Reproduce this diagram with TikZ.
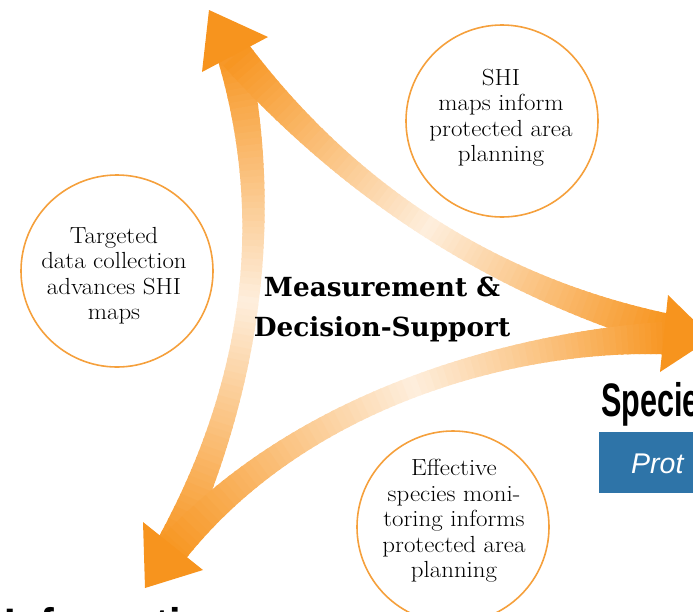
\documentclass[tikz,border=0pt]{standalone}
\usepackage{fontspec}
\usepackage{graphicx}
\newfontfamily\headfont{Liberation Sans}
\newfontfamily\centerfont{DejaVu Serif}
\newfontfamily\circfont[FakeStretch=1.07]{Latin Modern Roman}
\definecolor{arrorange}{RGB}{247,148,30}
\definecolor{arrpale}{RGB}{254,238,220}
\definecolor{ringorange}{RGB}{245,160,60}
\definecolor{boxblue}{RGB}{46,116,168}
\newcommand{\hend}{16.5}
\newcommand{\hmid}{10.5}
\newcommand{\setband}[8]{\def\qax{#1}\def\qay{#2}\def\qbx{#3}\def\qby{#4}\def\qcx{#5}\def\qcy{#6}\def\qdx{#7}\def\qdy{#8}}
\newcommand{\calcpt}[1]{%
  \pgfmathsetmacro{\bzt}{#1}%
  \pgfmathsetmacro{\bzs}{1-\bzt}%
  \pgfmathsetmacro{\bzpx}{\bzs*\bzs*\bzs*\qax+3*\bzs*\bzs*\bzt*\qbx+3*\bzs*\bzt*\bzt*\qcx+\bzt*\bzt*\bzt*\qdx}%
  \pgfmathsetmacro{\bzpy}{\bzs*\bzs*\bzs*\qay+3*\bzs*\bzs*\bzt*\qby+3*\bzs*\bzt*\bzt*\qcy+\bzt*\bzt*\bzt*\qdy}%
  \pgfmathsetmacro{\bztx}{(3*\bzs*\bzs*(\qbx-\qax)+6*\bzs*\bzt*(\qcx-\qbx)+3*\bzt*\bzt*(\qdx-\qcx))/100}%
  \pgfmathsetmacro{\bzty}{(3*\bzs*\bzs*(\qby-\qay)+6*\bzs*\bzt*(\qcy-\qby)+3*\bzt*\bzt*(\qdy-\qcy))/100}%
  \pgfmathsetmacro{\bzlen}{sqrt(\bztx*\bztx+\bzty*\bzty)}%
  \pgfmathsetmacro{\bzhw}{\hend-(\hend-\hmid)*4*\bzt*\bzs}%
  \pgfmathsetmacro{\bzLx}{\bzpx-\bzhw*\bzty/\bzlen}%
  \pgfmathsetmacro{\bzLy}{\bzpy+\bzhw*\bztx/\bzlen}%
  \pgfmathsetmacro{\bzRx}{\bzpx+\bzhw*\bzty/\bzlen}%
  \pgfmathsetmacro{\bzRy}{\bzpy-\bzhw*\bztx/\bzlen}%
}
\newcommand{\drawband}{%
  \foreach \i in {0,...,79}{%
    \pgfmathsetmacro{\bta}{\i/80}%
    \pgfmathsetmacro{\btb}{min(1,(\i+1.3)/80)}%
    \calcpt{\bta}%
    \let\aLx\bzLx \let\aLy\bzLy \let\aRx\bzRx \let\aRy\bzRy
    \calcpt{\btb}%
    \pgfmathtruncatemacro{\bpct}{100*abs(\bta+\btb-1)}%
    \colorlet{bandc}{arrorange!\bpct!arrpale}%
    \fill[bandc] (\aLx,\aLy) -- (\bzLx,\bzLy) -- (\bzRx,\bzRy) -- (\aRx,\aRy) -- cycle;
  }}
\tikzset{
  ring/.style={circle, draw=ringorange, line width=1.6pt, minimum size=192pt, inner sep=0pt},
  circtext/.style={align=center, inner sep=0pt, anchor=north, font=\circfont\fontsize{23.3}{25.5}\selectfont},
  midtext/.style={align=center, inner sep=0pt, anchor=north, font=\centerfont\bfseries\fontsize{26.3}{39.5}\selectfont},
  headtext/.style={inner sep=0pt, anchor=base west, font=\headfont\bfseries\fontsize{47}{47}\selectfont},
  headfill/.style={fill=arrorange}
}
\begin{document}
\begin{tikzpicture}[x=1pt,y=-1pt]
\useasboundingbox (0,0) rectangle (693,611);
% curved shafts
\setband{232}{50}{275}{218.7}{253.3}{387.3}{167}{556}\drawband
\setband{236}{55}{351.3}{194}{494.7}{285.7}{666}{330}\drawband
\setband{668}{338}{520}{340}{300}{395}{167}{556}\drawband
% arrow heads
\coordinate (tt) at (209,10); \coordinate (tl) at (202,72); \coordinate (tr) at (268,37);
\coordinate (rt) at (712,338); \coordinate (ru) at (668,295); \coordinate (rd) at (660,372);
\coordinate (bt) at (145,588); \coordinate (bl) at (143,522); \coordinate (br) at (203,570);
\fill[headfill] (tt) -- (tr) -- (tl) -- cycle;
\fill[headfill] (rt) -- (ru) -- (rd) -- cycle;
\fill[headfill] (bt) -- (bl) -- (br) -- cycle;
% circles
\node[ring] (c1) at (502,121) {};
\node[ring] (c2) at (117,271) {};
\node[ring] (c3) at (453,527) {};
\node[circtext] (t1) at (501,69) {SHI\\maps inform\\protected area\\planning};
\node[circtext] (t2) at (114,227) {Targeted\\data collection\\advances SHI\\maps};
\node[circtext] (t3) at (454,459) {Effective\\species moni-\\toring informs\\protected area\\planning};
\node[midtext] (mid) at (382,277) {Measurement \&\\Decision-Support};
% right heading and box
\node[headtext] (spec) at (601,416) {\scalebox{0.65}[1]{Specie}};
\node[fill=boxblue, anchor=north west, minimum width=120pt, minimum height=61pt, inner sep=0pt] (pbox) at (599,432) {};
\node[inner sep=0pt, anchor=base west, text=white, font=\headfont\itshape\fontsize{28.5}{28.5}\selectfont] (prot) at (631,473) {Prot};
% bottom heading (cut off)
\node[headtext] (info) at (4,641) {\scalebox{0.88}[1]{Information}};
\end{tikzpicture}
\end{document}
